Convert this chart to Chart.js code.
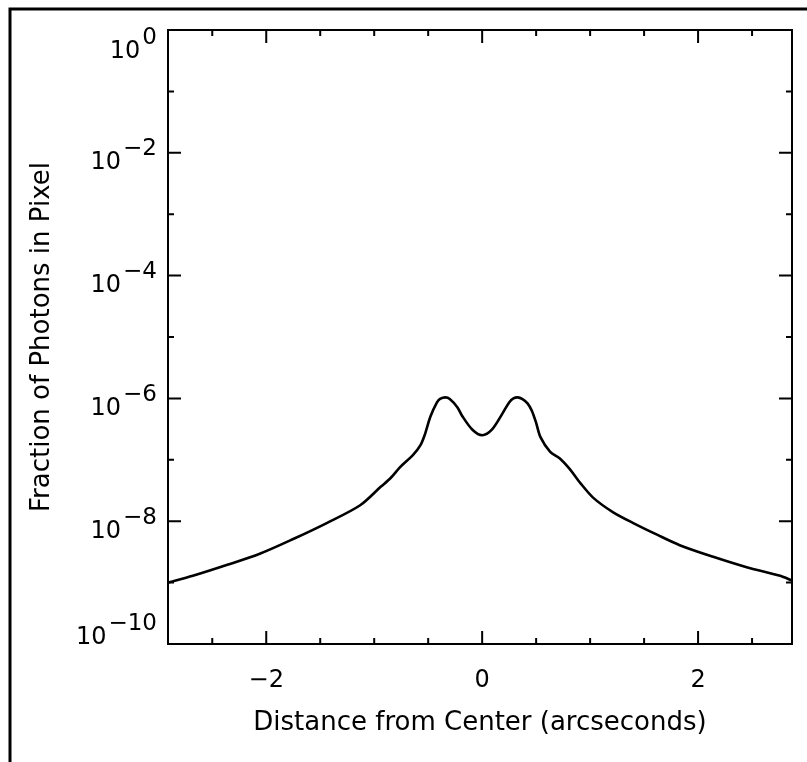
<!DOCTYPE html>
<html>
<head>
<meta charset="utf-8">
<script src="https://cdn.jsdelivr.net/npm/chart.js@4/dist/chart.umd.min.js"></script>
<style>
    html, body { margin: 0; padding: 0; background: #fff; }
    canvas { display: block; }
</style>
</head>
<body>
<canvas id="myChart" width="807" height="762"></canvas>
<script>
/* Profile data */
const distArcsec = [
    -2.91, -2.68, -2.36, -2.06, -1.75, -1.44, -1.13, -0.94, -0.85, -0.76,
    -0.64, -0.57, -0.53, -0.48, -0.42, -0.39, -0.34, -0.30, -0.23, -0.18,
    -0.09, 0.00, 0.09, 0.19, 0.25, 0.29, 0.33, 0.37, 0.42, 0.46,
    0.50, 0.54, 0.63, 0.72, 0.81, 0.91, 1.03, 1.21, 1.40, 1.62,
    1.83, 2.14, 2.45, 2.76, 2.87
];
const fracPhotons = [
    1.00e-9, 1.29e-9, 1.95e-9, 2.95e-9, 5.13e-9, 9.33e-9, 1.82e-8, 3.63e-8, 5.0e-8, 7.6e-8,
    1.20e-7, 1.75e-7, 2.6e-7, 5.01e-7, 8.51e-7, 9.8e-7, 1.04e-6, 9.8e-7, 7.2e-7, 5.01e-7,
    3.09e-7, 2.51e-7, 3.09e-7, 5.75e-7, 8.6e-7, 1.0e-6, 1.04e-6, 9.8e-7, 8.3e-7, 6.3e-7,
    4.0e-7, 2.34e-7, 1.35e-7, 1.05e-7, 7.1e-8, 4.17e-8, 2.40e-8, 1.41e-8, 9.33e-9, 6.03e-9,
    4.07e-9, 2.63e-9, 1.78e-9, 1.29e-9, 1.08e-9
];

/* Axis ticks */
const xTickValues = [-2.5, -2, -1.5, -1, -0.5, 0, 0.5, 1, 1.5, 2, 2.5];
const xTickLabels = [-2, 0, 2];
const yExponents = [0, -1, -2, -3, -4, -5, -6, -7, -8, -9, -10];
const yLabelExponents = [0, -2, -4, -6, -8, -10];

const MINUS = '\u2212';
const fmt = (n) => (n < 0 ? MINUS + Math.abs(n) : String(n));

/* frame, inward ticks and 10^n labels */
const framePlugin = {
    id: 'frame',
    beforeDraw(chart) {
        const ctx = chart.ctx;
        ctx.save();
        ctx.fillStyle = '#fff';
        ctx.fillRect(0, 0, chart.width, chart.height);
        // page border
        ctx.strokeStyle = '#000';
        ctx.lineWidth = 3;
        ctx.beginPath();
        ctx.moveTo(10, 762);
        ctx.lineTo(10, 9);
        ctx.lineTo(807, 9);
        ctx.stroke();
        ctx.restore();
    },
    afterDraw(chart) {
        const ctx = chart.ctx;
        const area = chart.chartArea;
        const xs = chart.scales.x;
        const ys = chart.scales.y;
        ctx.save();
        ctx.strokeStyle = '#000';
        ctx.lineWidth = 2;
        ctx.strokeRect(area.left, area.top, area.right - area.left, area.bottom - area.top);

        ctx.beginPath();
        xTickValues.forEach(v => {
            const px = xs.getPixelForValue(v);
            const len = xTickLabels.includes(v) ? 13 : 6;
            ctx.moveTo(px, area.bottom);
            ctx.lineTo(px, area.bottom - len);
            ctx.moveTo(px, area.top);
            ctx.lineTo(px, area.top + len);
        });
        yExponents.forEach(e => {
            const py = ys.getPixelForValue(Math.pow(10, e));
            const len = yLabelExponents.includes(e) ? 13 : 6;
            ctx.moveTo(area.left, py);
            ctx.lineTo(area.left + len, py);
            ctx.moveTo(area.right, py);
            ctx.lineTo(area.right - len, py);
        });
        ctx.stroke();

        // y labels: 10 with raised exponent
        ctx.fillStyle = '#000';
        ctx.textBaseline = 'alphabetic';
        ctx.textAlign = 'right';
        yLabelExponents.forEach(e => {
            const py = ys.getPixelForValue(Math.pow(10, e));
            const mid = Math.min(Math.max(py + 8, area.top + 19), area.bottom - 9);
            const base = mid + 8.5;
            ctx.font = '23px "DejaVu Sans"';
            const expText = fmt(e);
            ctx.fillText(expText, area.left - 11, base - 14);
            const w = ctx.measureText(expText).width;
            ctx.font = '24px "DejaVu Sans"';
            ctx.fillText('10', area.left - 11 - w - 2, base);
        });
        ctx.restore();
    }
};

const config = {
    type: 'line',
    data: {
        datasets: [{
            data: distArcsec.map((d, i) => ({ x: d, y: fracPhotons[i] })),
            borderColor: '#000',
            borderWidth: 2.6,
            pointRadius: 0,
            fill: false,
            tension: 0.3
        }]
    },
    options: {
        responsive: false,
        animation: false,
        devicePixelRatio: 1,
        layout: { padding: { top: 30, right: 15, left: 0, bottom: 0 } },
        plugins: {
            legend: { display: false },
            tooltip: { enabled: false }
        },
        scales: {
            x: {
                type: 'linear',
                min: -2.91,
                max: 2.87,
                afterBuildTicks: (scale) => {
                    scale.ticks = xTickValues.map(v => ({ value: v }));
                },
                afterFit: (scale) => { scale.height = 118; },
                grid: { display: false, drawTicks: false },
                border: { display: false },
                ticks: {
                    autoSkip: false,
                    maxRotation: 0,
                    padding: 22,
                    color: '#000',
                    font: { family: 'DejaVu Sans', size: 24 },
                    callback: (v) => (xTickLabels.includes(v) ? fmt(v) : '')
                },
                title: {
                    display: true,
                    text: 'Distance from Center (arcseconds)',
                    color: '#000',
                    font: { family: 'DejaVu Sans', size: 26 },
                    padding: { top: 0, bottom: 23 }
                }
            },
            y: {
                type: 'logarithmic',
                min: 1e-10,
                max: 1,
                afterBuildTicks: (scale) => {
                    scale.ticks = yExponents.map(e => ({ value: Math.pow(10, e) }));
                },
                afterFit: (scale) => { scale.width = 168; },
                grid: { display: false, drawTicks: false },
                border: { display: false },
                ticks: { display: false },
                title: {
                    display: true,
                    text: 'Fraction of Photons in Pixel',
                    color: '#000',
                    font: { family: 'DejaVu Sans', size: 26 },
                    padding: { top: 27, bottom: 0 }
                }
            }
        }
    },
    plugins: [framePlugin]
};

const myChart = new Chart(document.getElementById('myChart'), config);
</script>
</body>
</html>
